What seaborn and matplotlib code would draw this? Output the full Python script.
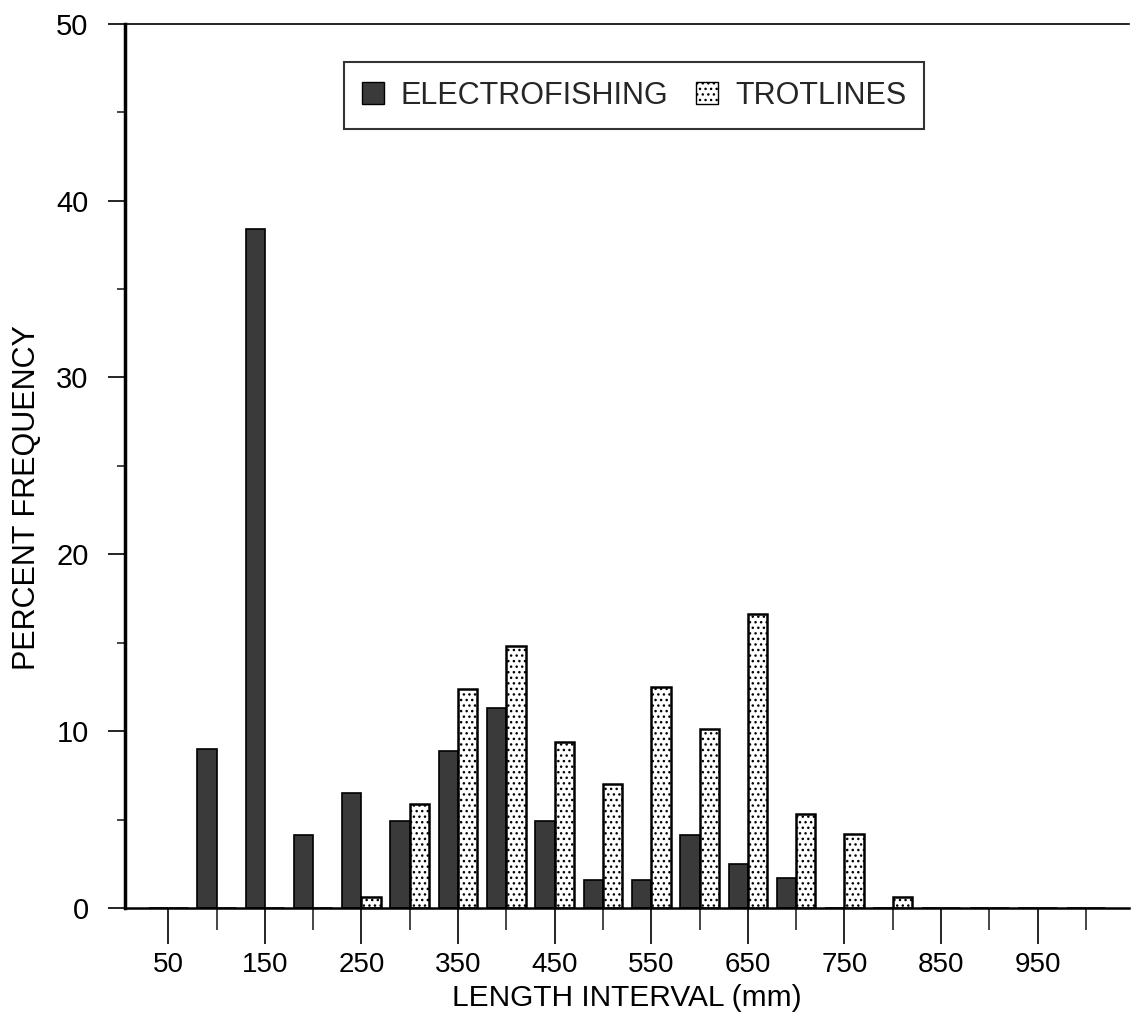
import matplotlib
matplotlib.use("Agg")
import matplotlib.pyplot as plt
from matplotlib.patches import Patch
from matplotlib.ticker import FixedLocator
import numpy as np
import pandas as pd
import seaborn as sns

# length intervals (mm), one category every 50 mm
lengths = [50, 100, 150, 200, 250, 300, 350, 400, 450, 500,
           550, 600, 650, 700, 750, 800, 850, 900, 950, 1000]
electro = [0, 9.0, 38.4, 4.1, 6.5, 4.9, 8.9, 11.3, 4.9, 1.6,
           1.6, 4.1, 2.5, 1.7, 0, 0, 0, 0, 0, 0]
trot = [0, 0, 0, 0, 0.6, 5.9, 12.4, 14.8, 9.4, 7.0,
        12.5, 10.1, 16.6, 5.3, 4.2, 0.6, 0, 0, 0, 0]
gear_names = ["ELECTROFISHING", "TROTLINES"]
tick_labels = ["50", "150", "250", "350", "450", "550", "650", "750", "850", "950"]
y_ticks = [0, 10, 20, 30, 40, 50]


def main():
    sns.set_theme(style="ticks")
    plt.rcParams['font.family'] = ['Liberation Sans', 'DejaVu Sans']

    df = pd.DataFrame({
        'length': [str(v) for v in lengths] * 2,
        'pct': electro + trot,
        'gear': [gear_names[0]] * len(lengths) + [gear_names[1]] * len(lengths),
    })

    fig = plt.figure(figsize=(11.34, 10.36), dpi=100)
    ax = fig.add_axes([0.110, 0.1236, 0.886, 0.8534])

    sns.barplot(data=df, x='length', y='pct', hue='gear',
                order=[str(v) for v in lengths], hue_order=gear_names,
                width=0.8, ax=ax, legend=False, errorbar=None)

    # style the two series like the printed figure
    for bar in ax.containers[0]:
        bar.set_facecolor('#3a3a3a')
        bar.set_edgecolor('black')
        bar.set_linewidth(1.2)
    for bar in ax.containers[1]:
        bar.set_facecolor('white')
        bar.set_edgecolor('black')
        bar.set_hatch('...')
        bar.set_linewidth(1.8)

    ax.set_xlim(-0.9, len(lengths) - 0.1)
    ax.set_ylim(0, 50)

    # labelled ticks every 100 mm, short ticks between
    major_pos = list(range(0, len(lengths), 2))
    minor_pos = list(range(1, len(lengths), 2))
    ax.xaxis.set_major_locator(FixedLocator(major_pos))
    ax.xaxis.set_minor_locator(FixedLocator(minor_pos))
    ax.set_xticklabels(tick_labels)
    ax.set_yticks(y_ticks)
    ax.yaxis.set_minor_locator(FixedLocator([5, 15, 25, 35, 45]))

    ax.tick_params(axis='x', which='major', length=26, width=1.2, pad=6,
                   labelsize=20, colors='black')
    ax.tick_params(axis='x', which='minor', length=16, width=1.2)
    ax.tick_params(axis='y', which='major', length=12, width=1.2, pad=14,
                   labelsize=21, colors='black')
    ax.tick_params(axis='y', which='minor', length=6, width=1.2)

    ax.set_xlabel('LENGTH INTERVAL (mm)', fontsize=21.5, labelpad=4, color='black')
    ax.set_ylabel('PERCENT FREQUENCY', fontsize=22, color='black')
    ax.yaxis.set_label_coords(-0.082, 0.464)

    ax.spines['right'].set_visible(False)
    ax.spines['left'].set_linewidth(2.5)
    ax.spines['top'].set_linewidth(1.2)
    ax.spines['bottom'].set_linewidth(1.8)
    for side in ['left', 'top', 'bottom']:
        ax.spines[side].set_color('black')

    handles = [
        Patch(facecolor='#3a3a3a', edgecolor='black', label=gear_names[0]),
        Patch(facecolor='white', edgecolor='black', hatch='...', label=gear_names[1]),
    ]
    leg = ax.legend(handles=handles, loc='center', bbox_to_anchor=(0.507, 0.9186),
                    ncol=2, fontsize=22, frameon=True, fancybox=False,
                    handlelength=0.72, handleheight=0.72, handletextpad=0.55,
                    columnspacing=0.9, borderpad=0.6)
    leg.get_frame().set_edgecolor('black')
    leg.get_frame().set_linewidth(1.5)

    fig.savefig('out.png', dpi=100)
    plt.close(fig)


if __name__ == '__main__':
    main()
